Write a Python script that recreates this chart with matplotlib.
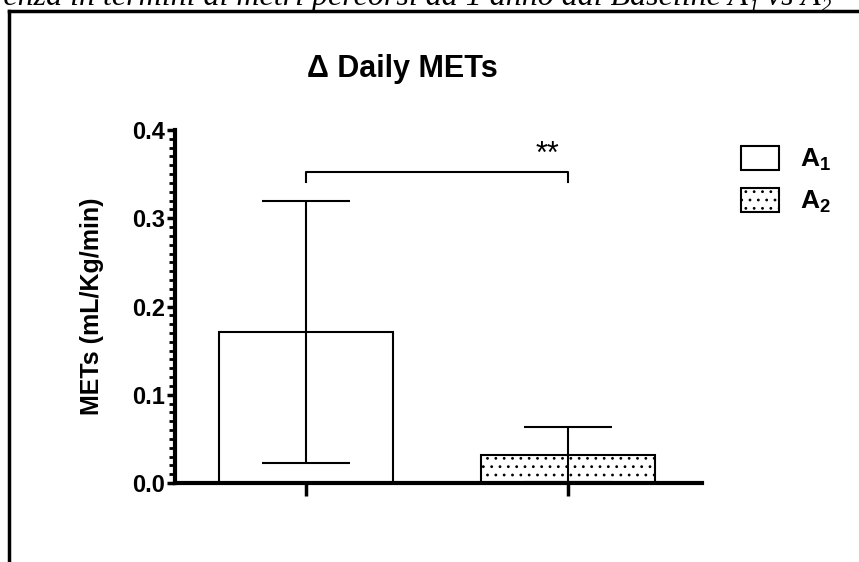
import matplotlib
matplotlib.use('Agg')
import matplotlib.pyplot as plt
from matplotlib.lines import Line2D
from matplotlib.patches import Patch
import numpy as np

# ---- data ----
groups = [r'$\mathbf{A_1}$', r'$\mathbf{A_2}$']
means = [0.171, 0.032]
sds = [0.148, 0.031]
yticks = [0.0, 0.1, 0.2, 0.3, 0.4]
ytick_labels = ['0.0', '0.1', '0.2', '0.3', '0.4']
sig_label = '**'
title = '\u0394 Daily METs'
ylabel = 'METs (mL/Kg/min)'
caption = 'renza in termini di metri percorsi ad 1 anno dal Baseline A\u2081 vs A\u2082'

plt.rcParams['font.family'] = ['Liberation Sans', 'DejaVu Sans']
plt.rcParams['mathtext.fontset'] = 'custom'
plt.rcParams['mathtext.bf'] = 'Liberation Sans:bold'
plt.rcParams['mathtext.rm'] = 'Liberation Sans'
plt.rcParams['hatch.linewidth'] = 0.8
plt.rcParams['hatch.color'] = '#666666'

fig = plt.figure(figsize=(8.59, 5.62), dpi=100)
ax = fig.add_axes([175 / 859, 79 / 562, 527 / 859, 353 / 562])

x = np.arange(len(groups))
hatches = ['', '..']
for i in range(len(groups)):
    ax.bar(x[i], means[i], width=0.664, color='white', edgecolor='black',
           linewidth=1.5, hatch=hatches[i], zorder=2)
    ax.errorbar(x[i], means[i], yerr=sds[i], fmt='none', ecolor='black',
                elinewidth=1.5, capsize=31.5, capthick=1.5, zorder=3)

ax.set_xlim(-0.5, 1.511)
ax.set_ylim(0, 0.4)
ax.set_yticks(yticks)
ax.set_yticks(np.arange(0, 0.4001, 0.01), minor=True)
ax.set_yticklabels(ytick_labels)
ax.tick_params(axis='y', which='major', direction='out', length=6, width=2.5,
               pad=1, labelsize=17)
ax.tick_params(axis='y', which='minor', direction='out', length=4, width=2)
for lab in ax.get_yticklabels():
    lab.set_fontweight('bold')
ax.set_xticks(x)
ax.set_xticklabels([])
ax.tick_params(axis='x', direction='out', length=9, width=2.5)
for s in ['top', 'right']:
    ax.spines[s].set_visible(False)
ax.spines['left'].set_linewidth(3)
ax.spines['bottom'].set_linewidth(3)

ax.set_ylabel(ylabel, fontsize=18, fontweight='bold', labelpad=20)

# significance bracket
yb = 0.352
ax.plot([x[0], x[0], x[1], x[1]], [yb - 0.011, yb, yb, yb - 0.011],
        color='black', lw=1.5, clip_on=False)
ax.text(0.92, yb + 0.003, sig_label, ha='center', va='bottom', fontsize=22)

# legend
handles = [Patch(facecolor='white', edgecolor='black', linewidth=1.5, hatch=h)
           for h in hatches]
leg = fig.legend(handles, groups, loc='upper left',
                 bbox_to_anchor=(717 / 859, 1 - 122 / 562),
                 frameon=False, handlelength=1.45, handleheight=1.05,
                 prop={'size': 19, 'weight': 'bold'}, labelspacing=0.55,
                 handletextpad=0.8)

fig.text(402 / 859, 1 - 69 / 562, title, ha='center', va='center',
         fontsize=22, fontweight='bold')

# document frame and clipped caption
fig.add_artist(Line2D([9 / 859, 9 / 859], [0, 1 - 11 / 562], color='black', lw=2.5))
fig.add_artist(Line2D([9 / 859, 1], [1 - 11 / 562, 1 - 11 / 562], color='black', lw=2.5))
fig.text(832 / 859, 1 - 5 / 562, caption, ha='right', va='baseline', fontsize=23,
         style='italic', family=['Liberation Serif', 'DejaVu Serif'])

fig.savefig('out.png', dpi=100)
